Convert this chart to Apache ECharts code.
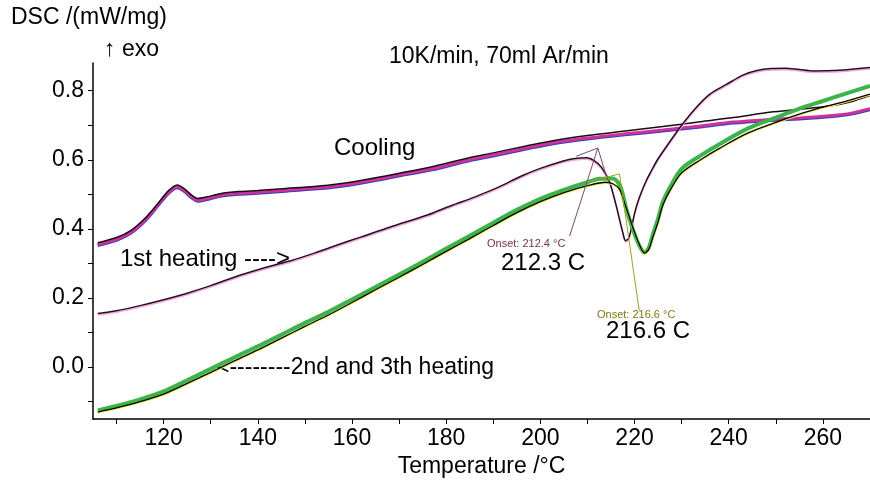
<!DOCTYPE html>
<html>
<head>
<meta charset="utf-8">
<script src="https://cdn.jsdelivr.net/npm/echarts@6/dist/echarts.min.js"></script>
<style>
  html, body { margin: 0; padding: 0; background: #fff; }
  #chart { width: 870px; height: 483px; }
</style>
</head>
<body>
<div id="chart"></div>
<script>
// axis ticks
const xTicks = [110, 120, 130, 140, 150, 160, 170, 180, 190, 200, 210, 220, 230, 240, 250, 260, 270];
const xLabels = [120, 140, 160, 180, 200, 220, 240, 260];
const yTicks = [-0.1, 0, 0.1, 0.2, 0.3, 0.4, 0.5, 0.6, 0.7, 0.8];
const yLabels = [0, 0.2, 0.4, 0.6, 0.8];

// 1st heating  [T, DSC]
const heat1 = [
  [106, 0.155], [110, 0.163], [115, 0.178], [120, 0.195], [125, 0.214], [130, 0.236],
  [136, 0.265], [142, 0.29], [147, 0.308], [152, 0.33], [157, 0.354], [162, 0.377],
  [168, 0.405], [176, 0.44], [181, 0.467], [186, 0.492], [191, 0.52], [196, 0.553],
  [200, 0.575], [204, 0.593], [207, 0.603], [209.8, 0.606], [211.5, 0.597], [213, 0.578],
  [214.7, 0.536], [216.1, 0.468], [217.5, 0.39], [218.1, 0.366], [218.7, 0.372],
  [219.3, 0.4], [220, 0.445], [221, 0.49], [222.5, 0.54], [223.8, 0.574], [225, 0.603],
  [227, 0.643], [230, 0.7], [233, 0.75], [236, 0.79], [239.5, 0.818], [243, 0.845],
  [246, 0.858], [249, 0.864], [252, 0.865], [255, 0.861], [258, 0.857], [262, 0.858],
  [266, 0.862], [270, 0.867]
];

// cooling, two runs
const coolA = [
  [106, 0.36], [110, 0.375], [113, 0.395], [116, 0.43], [118.7, 0.472], [121, 0.51],
  [122.9, 0.527], [124.5, 0.515], [126, 0.497], [127.2, 0.488], [129, 0.492], [132, 0.502],
  [136, 0.508], [140, 0.511], [146, 0.517], [152, 0.523], [157, 0.53], [163, 0.543],
  [170, 0.561], [177, 0.58], [184, 0.603], [190, 0.62], [197, 0.64], [203, 0.656],
  [210, 0.67], [218, 0.683], [226, 0.696], [234, 0.71], [241, 0.722], [249, 0.738],
  [255, 0.746], [262, 0.757], [266, 0.768], [270, 0.786]
];
const coolB = [
  [106, 0.355], [110, 0.37], [113, 0.39], [116, 0.425], [118.7, 0.468], [121, 0.505],
  [122.9, 0.522], [124.5, 0.51], [126, 0.492], [127.2, 0.483], [129, 0.487], [132, 0.497],
  [136, 0.503], [140, 0.506], [146, 0.512], [152, 0.518], [157, 0.525], [163, 0.538],
  [170, 0.556], [177, 0.574], [184, 0.597], [190, 0.614], [197, 0.634], [203, 0.65],
  [210, 0.663], [218, 0.675], [226, 0.686], [234, 0.698], [241, 0.709], [248, 0.716],
  [255, 0.721], [262, 0.728], [266, 0.735], [270, 0.748]
];

// 2nd heating (black) and 3rd heating (green)
const heat2 = [
  [106, -0.13], [110, -0.118], [115, -0.1], [120, -0.078], [125, -0.047], [130, -0.015],
  [135, 0.018], [140, 0.05], [145, 0.084], [150, 0.118], [155, 0.151], [160, 0.187],
  [165, 0.224], [170, 0.26], [175, 0.297], [180, 0.335], [185, 0.372], [190, 0.41],
  [195, 0.447], [200, 0.479], [205, 0.505], [210, 0.525], [213.9, 0.535], [215.5, 0.53],
  [216.8, 0.515], [218, 0.47], [219.6, 0.405], [221, 0.355], [222.1, 0.33], [223, 0.34],
  [223.8, 0.372], [225, 0.42], [226, 0.468], [227.5, 0.51], [230, 0.562], [234, 0.6],
  [238, 0.633], [244, 0.677], [250, 0.708], [255, 0.732], [260, 0.752], [265, 0.77], [270, 0.79]
];
const heat3 = [
  [106, -0.125], [110, -0.112], [115, -0.093], [120, -0.07], [125, -0.038], [130, -0.005],
  [135, 0.028], [140, 0.06], [145, 0.094], [150, 0.128], [155, 0.16], [160, 0.196],
  [165, 0.232], [170, 0.268], [175, 0.305], [180, 0.343], [185, 0.38], [190, 0.418],
  [195, 0.455], [200, 0.487], [205, 0.513], [210, 0.535], [212.6, 0.545], [215.4, 0.546],
  [216.8, 0.528], [217.5, 0.5], [218.2, 0.46], [219.6, 0.4], [221, 0.352], [222.1, 0.332],
  [223, 0.345], [223.8, 0.38], [225, 0.43], [226, 0.478], [227.5, 0.52], [230, 0.574],
  [234, 0.612], [238, 0.645], [244, 0.69], [250, 0.722], [255, 0.748], [260, 0.77],
  [265, 0.792], [270, 0.814]
];

// onset constructions
const onset1 = [[207.6, 0.61], [212.2, 0.634], [214.3, 0.54]];
const onset1Lead = [[212.2, 0.634], [206.2, 0.379]];
const onset2 = [[209.8, 0.535], [216.8, 0.559], [221, 0.163]];

const FONT = '"Liberation Sans", Arial, "DejaVu Sans", sans-serif';

const chart = echarts.init(document.getElementById('chart'));

function line(data, color, width, extra) {
  return Object.assign({
    type: 'line',
    data: data,
    showSymbol: false,
    smooth: 0.3,
    silent: true,
    lineStyle: { color: color, width: width }
  }, extra || {});
}

function text(str, left, top, size, color) {
  return {
    type: 'text', left: left, top: top, silent: true,
    style: { text: str, font: size + 'px ' + FONT, fill: color || '#000' }
  };
}

chart.setOption({
  animation: false,
  backgroundColor: '#fff',
  grid: { left: 93, right: 0, top: 63, bottom: 64 },
  xAxis: {
    type: 'value', min: 105, max: 270,
    axisLine: { onZero: false, lineStyle: { color: '#000', width: 1.5 } },
    axisTick: { customValues: xTicks, length: 5, lineStyle: { color: '#000' } },
    axisLabel: { customValues: xLabels, color: '#000', fontSize: 23, fontFamily: FONT, margin: 8 },
    splitLine: { show: false },
    name: 'Temperature /°C', nameLocation: 'middle', nameGap: 36,
    nameTextStyle: { color: '#000', fontSize: 23, fontFamily: FONT }
  },
  yAxis: {
    type: 'value', min: -0.15, max: 0.88,
    axisLine: { show: true, lineStyle: { color: '#000', width: 1.5 } },
    axisTick: { show: true, customValues: yTicks, length: 5, lineStyle: { color: '#000' } },
    axisLabel: {
      customValues: yLabels, color: '#000', fontSize: 23, fontFamily: FONT, margin: 9,
      formatter: v => v.toFixed(1)
    },
    splitLine: { show: false }
  },
  series: [
    line(coolB, '#d0309a', 3, { lineStyle: { color: '#d0309a', width: 3, shadowColor: '#3040c0', shadowOffsetY: 1, shadowBlur: 0 } }),
    line(coolA, '#1a0a14', 1.5),
    line(heat1, '#2a0a22', 1.5, { lineStyle: { color: '#2a0a22', width: 1.5, shadowColor: '#f2a8d8', shadowOffsetY: 1.5, shadowBlur: 0 } }),
    line(heat3, '#3cb44a', 4),
    line(heat2, '#000', 1.3, { lineStyle: { color: '#000', width: 1.3, shadowColor: '#eeee50', shadowOffsetY: 1, shadowBlur: 0 } }),
    line(onset1, '#7a4a6a', 1, { smooth: false }),
    line(onset1Lead, '#7a4a6a', 1, { smooth: false }),
    line(onset2, '#a0a020', 1, { smooth: false })
  ],
  graphic: [
    text('DSC /(mW/mg)', 11, 6, 23),
    text('\u2191 exo', 104, 38, 23),
    text('10K/min, 70ml Ar/min', 389, 45, 23),
    text('Cooling', 334, 136, 24),
    text('1st heating ---->', 120, 247, 24),
    text('Onset: 212.4 \u00b0C', 487, 238, 11, '#7a3050'),
    text('212.3 C', 501, 251, 24),
    text('Onset: 216.6 \u00b0C', 597, 309, 11, '#7a7a10'),
    text('216.6 C', 606, 319, 24),
    text('<--------2nd and 3th heating', 216, 356, 23)
  ]
});
</script>
</body>
</html>
